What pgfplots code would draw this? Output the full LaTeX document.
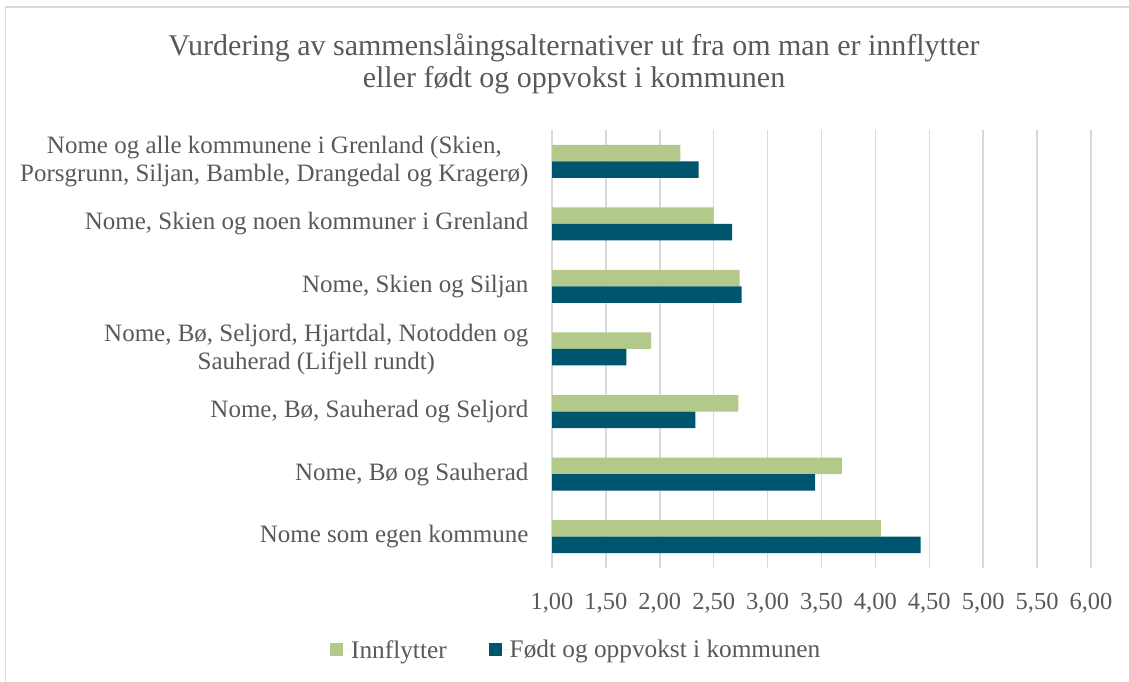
\documentclass[border=0pt]{standalone}
\usepackage{pgfplots}
\pgfplotsset{compat=1.18}
\usepackage{fontspec}
\setmainfont{Liberation Serif}
\definecolor{grn}{HTML}{B3C88B}
\definecolor{tealc}{HTML}{00556E}
\definecolor{txt}{HTML}{595959}
\definecolor{gridc}{HTML}{D9D9D9}
\begin{document}
\begin{tikzpicture}[x=1pt,y=1pt]
\path[use as bounding box] (0,0) rectangle (1129,682);
\draw[gridc, line width=1.5pt] (5.5,0) -- (5.5,675) -- (1129,675);
\node[txt, align=center, font=\fontsize{30}{32}\selectfont] at (574,618)
  {Vurdering av sammenslåingsalternativer ut fra om man er innflytter\\eller født og oppvokst i kommunen};
\begin{axis}[
  at={(552pt,114pt)}, anchor=south west,
  scale only axis, width=539pt, height=438pt,
  xmin=1, xmax=6, ymin=-0.5, ymax=6.5,
  xtick={1,1.5,...,6},
  ytick={0,...,6},
  yticklabels={Nome som egen kommune,
    {Nome, Bø og Sauherad},
    {Nome, Bø, Sauherad og Seljord},
    {Nome, Bø, Seljord, Hjartdal, Notodden og\\Sauherad (Lifjell rundt)},
    {Nome, Skien og Siljan},
    {Nome, Skien og noen kommuner i Grenland},
    {Nome og alle kommunene i Grenland (Skien,\\Porsgrunn, Siljan, Bamble, Drangedal og Kragerø)}},
  yticklabel style={align=center, font=\fontsize{25}{28}\selectfont, text=txt, xshift=-20pt},
  xticklabel style={font=\fontsize{24.5}{28}\selectfont, text=txt, yshift=-22pt},
  /pgf/number format/.cd, fixed, fixed zerofill, precision=2, use comma, assume math mode=true, /pgfplots/.cd,
  xmajorgrids, major grid style={gridc, line width=1.5pt},
  axis line style={draw=none},
  major tick length=0pt,
  xbar, bar width=16.5pt,
  clip=true,
  legend style={at={(0.045,-0.187)}, anchor=center, draw=none, fill=none,
    legend columns=2, font=\fontsize{25.3}{28}\selectfont, text=txt,
    /tikz/every even column/.append style={column sep=40pt}},
  legend image code/.code={\fill[#1] (0pt,-6pt) rectangle (13pt,7pt); \path (0pt,0pt) -- (19pt,0pt);},
]
\addplot[fill=grn, draw=none, bar shift=8.25pt] coordinates {
  (4.05,0) (3.69,1) (2.73,2) (1.92,3) (2.74,4) (2.50,5) (2.19,6)};
\addplot[fill=tealc, draw=none, bar shift=-8.25pt] coordinates {
  (4.42,0) (3.44,1) (2.33,2) (1.69,3) (2.76,4) (2.67,5) (2.36,6)};
\legend{Innflytter, Født og oppvokst i kommunen}
\end{axis}
\end{tikzpicture}
\end{document}
